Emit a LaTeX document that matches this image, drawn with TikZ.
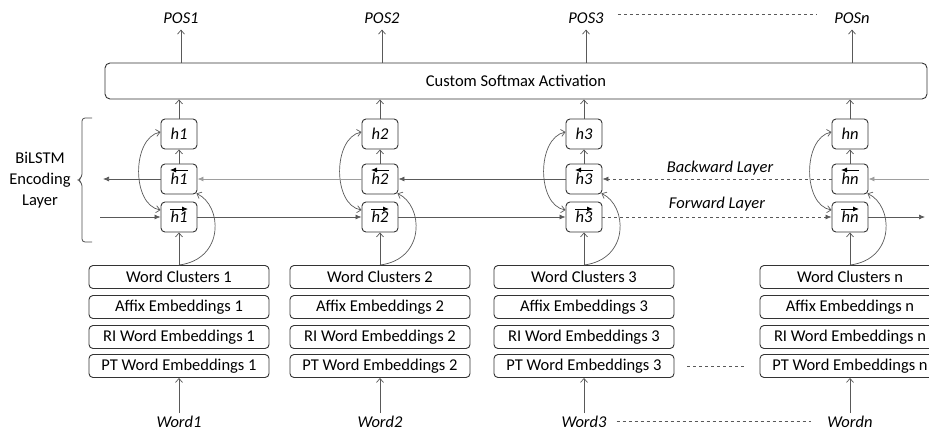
\documentclass[tikz,border=0pt]{standalone}
\usepackage{fontspec}
\setmainfont{Carlito}
\usetikzlibrary{arrows.meta}
\begin{document}
\begin{tikzpicture}[x=1pt,y=-1pt,
  every node/.style={font=\fontsize{16.5}{21}\selectfont, inner sep=0pt},
  hbox/.style={draw=black!80, line width=0.9pt, rounded corners=4pt, minimum width=36pt, minimum height=30pt},
  embbox/.style={draw=black!80, line width=0.9pt, rounded corners=4pt, minimum width=180pt, minimum height=23pt},
  conn/.style={draw=black!65, line width=0.7pt},
  lightconn/.style={draw=black!38, line width=0.9pt},
  openarr/.style={-{Straight Barb[length=4pt,width=7pt]}},
  openboth/.style={{Straight Barb[length=4pt,width=7pt]}-{Straight Barb[length=4pt,width=7pt]}},
  ftip/.style={-{Latex[length=6pt,width=5pt]}},
  lbl/.style={font=\fontsize{16.5}{21}\selectfont\itshape},
]
\useasboundingbox (0,0) rectangle (929,432);

% softmax
\node[draw=black!80, line width=0.9pt, rounded corners=5pt, minimum width=822pt, minimum height=36pt] (sm) at (516,81) {Custom Softmax Activation};

\foreach \i/\x in {1/179,2/380,3/584,n/850} {
  \node[hbox] (t\i) at (\x,134) {\textit{h\i}};
  \node[hbox] (m\i) at (\x,179) {\raisebox{-3pt}{\textit{h\i}}};
  \node[hbox] (f\i) at (\x,217) {\raisebox{-3pt}{\textit{h\i}}};
  \draw[black, line width=0.8pt, ftip] ([xshift=9pt,yshift=9pt]m\i.center) -- ([xshift=-9pt,yshift=9pt]m\i.center);
  \draw[black, line width=0.8pt, ftip] ([xshift=-9pt,yshift=8pt]f\i.center) -- ([xshift=9pt,yshift=8pt]f\i.center);
  \node[embbox] (wc\i) at (\x,277) {Word Clusters \i};
  \node[embbox] (af\i) at (\x,307) {Affix Embeddings \i};
  \node[embbox] (ri\i) at (\x,337) {RI Word Embeddings \i};
  \node[embbox] (pt\i) at (\x,366) {PT Word Embeddings \i};
  \node[lbl] (w\i) at (\x,422) {Word\i};
  \node[lbl] (pos\i) at (\x+2,18) {POS\i};
  \draw[conn,openarr,shorten <=3pt] (w\i.north) -- (pt\i.south);
  \draw[conn,openarr] (wc\i.north) -- (f\i.south);
  \draw[conn,openarr] (m\i.north) -- (t\i.south);
  \draw[conn,openarr] (t\i.north) -- (t\i.north |- sm.south);
  \draw[conn,openarr,shorten >=6pt] (sm.north -| pos\i) -- (pos\i.south);
  \draw[conn,openboth] ([yshift=7pt]f\i.west) .. controls +(-29,-5) and +(-29,6) .. ([yshift=2pt]t\i.west);
  \draw[conn,openarr] (wc\i.north) .. controls +(46,-6) and +(26,12) .. ([xshift=-1pt,yshift=1pt]m\i.south east);
}

% free ends
\coordinate (bin) at (929,179);
\coordinate (bout) at (103,179);
\coordinate (fin) at (100,217);
\coordinate (fout) at (925,217);

% backward layer
\draw[lightconn,ftip] (bin) -- (mn.east);
\draw[conn,dashed,ftip] (mn.west) -- (m3.east);
\draw[conn,ftip] (m3.west) -- (m2.east);
\draw[lightconn,ftip] (m2.west) -- (m1.east);
\draw[conn,ftip] (m1.west) -- (bout);

% forward layer
\draw[conn,ftip] (fin) -- (f1.west);
\draw[conn,ftip] (f1.east) -- (f2.west);
\draw[conn,ftip] (f2.east) -- (f3.west);
\draw[conn,dashed,ftip] (f3.east) -- (fn.west);
\draw[conn,ftip] (fn.east) -- (fout);

\node[lbl] (bl) at (720,168) {Backward Layer};
\node[lbl] (fl) at (717,204) {Forward Layer};

% ellipsis dashes
\draw[conn,dashed,shorten <=14pt,shorten >=18pt] ([yshift=4pt]pos3.east) -- ([yshift=4pt]posn.west);
\draw[conn,dashed,shorten <=13pt,shorten >=13pt] (pt3.east) -- (ptn.west);
\draw[conn,dashed,shorten <=10pt,shorten >=16pt] ([yshift=1pt]w3.east) -- ([yshift=1pt]wn.west);

% BiLSTM brace
\node[align=center] (bil) at (40,180) {BiLSTM\\Encoding\\Layer};
\draw[black!70, line width=0.8pt, rounded corners=3pt] (92,118) -- (82,118) -- (82,177) -- (78,180) -- (82,183) -- (82,242) -- (92,242);
\end{tikzpicture}
\end{document}
